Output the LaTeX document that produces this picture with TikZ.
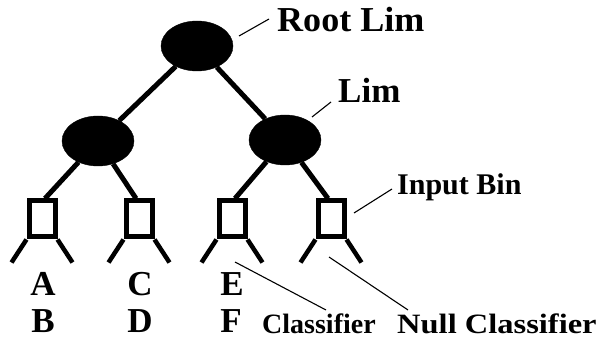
\documentclass[tikz,border=0pt]{standalone}
\usepackage{fontspec}
\setmainfont{Liberation Serif}
\usetikzlibrary{shapes.geometric,calc}
\begin{document}
\begin{tikzpicture}[x=1pt,y=-1pt,
  lim/.style={ellipse,fill=black,draw=black,minimum width=72pt,minimum height=50pt,inner sep=0pt},
  bin/.style={rectangle,draw=black,line width=5pt,minimum width=26pt,minimum height=36pt,inner sep=0pt},
  branch/.style={line width=5pt},
  leg/.style={line width=4.5pt},
  callout/.style={line width=1.1pt},
  big/.style={font=\fontsize{35}{40}\selectfont\bfseries,inner sep=0pt,anchor=base},
  small/.style={font=\fontsize{28}{32}\selectfont\bfseries,inner sep=0pt,anchor=base west}]
\useasboundingbox (0,0) rectangle (597,339);
% Lim nodes
\node[lim] (root) at (197,46) {};
\node[lim] (lc) at (98,141) {};
\node[lim] (rc) at (285,140) {};
% input bins
\node[bin] (b1) at (42,219) {};
\node[bin] (b2) at (139,219) {};
\node[bin] (b3) at (232,219) {};
\node[bin] (b4) at (331,219) {};
% branches
\draw[branch] (root) -- (lc);
\draw[branch] (root) -- (rc);
\draw[branch] (lc) -- ($(b1.north)+(3,0)$);
\draw[branch] (lc) -- ($(b2.north)+(-3,0)$);
\draw[branch] (rc) -- ($(b3.north)+(3,0)$);
\draw[branch] (rc) -- ($(b4.north)+(-3,0)$);
% legs
\foreach \b in {b1,b2,b3,b4}{
  \coordinate (\b l) at ($(\b.south west)+(-15,23)$);
  \coordinate (\b r) at ($(\b.south east)+(15,23)$);
  \draw[leg] (\b.south west) -- (\b l);
  \draw[leg] (\b.south east) -- (\b r);
}
% leaf labels
\node[big] (A) at (43,295) {A};
\node[big] (B) at (43,332) {B};
\node[big] (C) at (140,295) {C};
\node[big] (D) at (140,332) {D};
\node[big] (E) at (232,295) {E};
\node[big] (F) at (231,332) {F};
% labels
\node[big,anchor=base west,xscale=1.03] (rl) at (277,32) {Root Lim};
\node[big,anchor=base west] (ll) at (338,103) {Lim};
\node[small,font=\fontsize{30}{34}\selectfont\bfseries] (ib) at (397,195) {Input Bin};
\node[small] (cl) at (262,333) {Classifier};
\node[small,xscale=1.16] (nc) at (397,333) {Null Classifier};
% callouts
\coordinate (c1a) at (239,36); \coordinate (c1b) at (269,19);
\coordinate (c2a) at (312,117); \coordinate (c2b) at (331,102);
\coordinate (c3a) at (354,213); \coordinate (c3b) at (392,189);
\coordinate (c4a) at (235,262); \coordinate (c4b) at (326,310);
\coordinate (c5a) at (329,257); \coordinate (c5b) at (408,310);
\draw[callout] (c1a) -- (c1b);
\draw[callout] (c2a) -- (c2b);
\draw[callout] (c3a) -- (c3b);
\draw[callout] (c4a) -- (c4b);
\draw[callout] (c5a) -- (c5b);
\end{tikzpicture}
\end{document}
